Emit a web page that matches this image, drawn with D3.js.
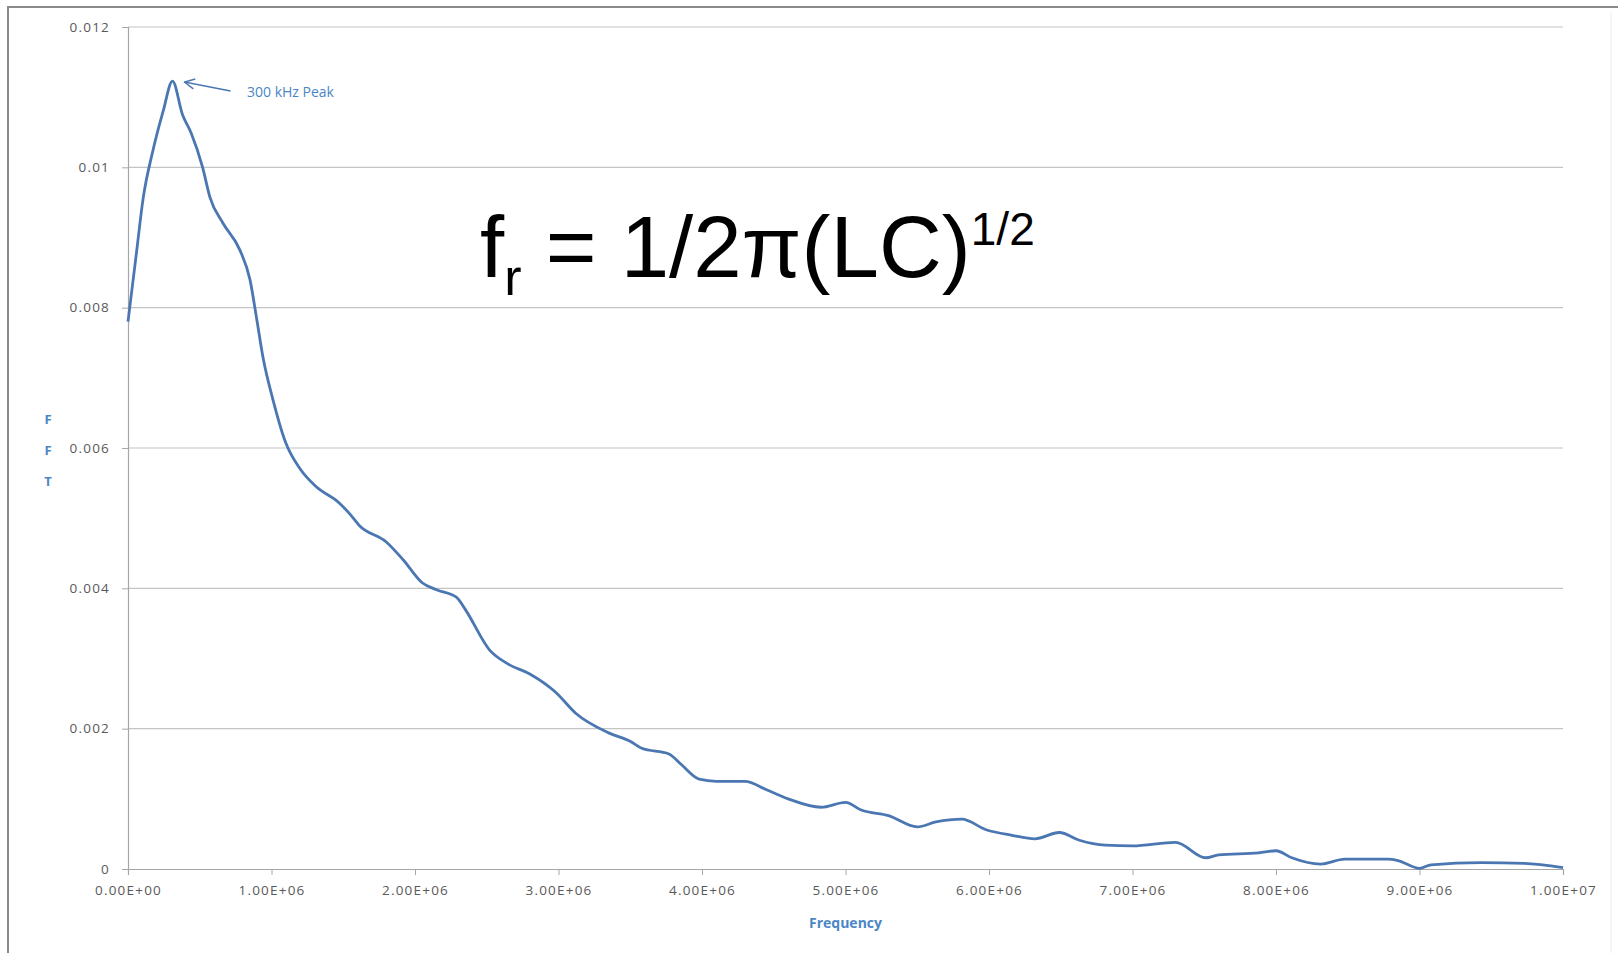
<!DOCTYPE html>
<html>
<head>
<meta charset="utf-8">
<script src="https://cdn.jsdelivr.net/npm/d3@7"></script>
<style>
  body { margin: 0; background: #fff; }
  svg { display: block; }
  .tick text { font-family: "Open Sans", sans-serif; font-size: 13.5px; fill: #595959; letter-spacing: 1.2px; }
</style>
</head>
<body>
<div id="graph"></div>
<script>
// valeurs (fréquence en Hz, amplitude FFT)
var frequences = [0, 0.06e6, 0.105e6, 0.175e6, 0.245e6, 0.31e6, 0.38e6, 0.44e6, 0.52e6, 0.57e6,
    0.66e6, 0.78e6, 0.85e6, 0.90e6, 0.94e6, 1.01e6, 1.10e6, 1.20e6, 1.31e6, 1.47e6,
    1.55e6, 1.61e6, 1.80e6, 1.92e6, 2.05e6, 2.15e6, 2.29e6, 2.35e6, 2.52e6, 2.65e6,
    2.80e6, 2.98e6, 3.12e6, 3.35e6, 3.50e6, 3.58e6, 3.77e6, 3.85e6, 3.98e6, 4.10e6,
    4.30e6, 4.45e6, 4.60e6, 4.83e6, 5.00e6, 5.11e6, 5.30e6, 5.50e6, 5.63e6, 5.81e6,
    5.98e6, 6.16e6, 6.32e6, 6.49e6, 6.63e6, 6.81e6, 7.00e6, 7.30e6, 7.51e6, 7.60e6,
    7.88e6, 8.00e6, 8.11e6, 8.31e6, 8.48e6, 8.78e6, 8.85e6, 9.00e6, 9.08e6, 9.43e6,
    9.73e6, 10.0e6];
var valeursFFT = [0.00780, 0.00880, 0.00955, 0.01025, 0.01080, 0.01123, 0.01075, 0.01049, 0.01000, 0.00958,
    0.00921, 0.00882, 0.00840, 0.00780, 0.00730, 0.00669, 0.00607, 0.00570, 0.00545, 0.00522,
    0.00505, 0.00490, 0.00466, 0.00440, 0.00408, 0.00398, 0.00387, 0.00370, 0.00312, 0.00292,
    0.00278, 0.00252, 0.00222, 0.00194, 0.00182, 0.00172, 0.00164, 0.00150, 0.00128, 0.00125,
    0.00125, 0.00113, 0.00100, 0.00088, 0.00095, 0.00084, 0.00076, 0.00060, 0.00067, 0.00071,
    0.00056, 0.00048, 0.00043, 0.00052, 0.00041, 0.00034, 0.00033, 0.00038, 0.00016, 0.00020,
    0.00023, 0.00026, 0.00016, 0.00007, 0.00014, 0.00014, 0.00012, 0.00001, 0.00006, 0.00009,
    0.00008, 0.00002];

var ticksX = [0, 1e6, 2e6, 3e6, 4e6, 5e6, 6e6, 7e6, 8e6, 9e6, 1e7];
var labelsX = ["0.00E+00", "1.00E+06", "2.00E+06", "3.00E+06", "4.00E+06", "5.00E+06",
    "6.00E+06", "7.00E+06", "8.00E+06", "9.00E+06", "1.00E+07"];
var ticksY = [0, 0.002, 0.004, 0.006, 0.008, 0.01, 0.012];
var labelsY = ["0", "0.002", "0.004", "0.006", "0.008", "0.01", "0.012"];

var pic = { freq: 0.31e6, val: 0.01123, texte: "300 kHz Peak" };

dessinerGraphique();

function dessinerGraphique() {
    const width = 1619;
    const height = 953;
    const bleu = "#4a77b2";
    const bleuTexte = "#4a86c5";

    const svg = d3.select("#graph").append("svg")
        .attr("width", width)
        .attr("height", height);

    svg.append("rect").attr("width", width).attr("height", height).attr("fill", "#fff");

    // cadre du graphique
    svg.append("path")
        .attr("d", "M8,960 L8,7 L1618,7")
        .attr("fill", "none")
        .attr("stroke", "#8a8a8a")
        .attr("stroke-width", 2);
    svg.append("line")
        .attr("x1", 1611).attr("x2", 1611).attr("y1", 12).attr("y2", 953)
        .attr("stroke", "#ececec").attr("stroke-width", 1);

    const x = d3.scaleLinear().domain([0, 1e7]).range([128, 1563]);
    const y = d3.scaleLinear().domain([0, 0.012]).range([869, 27]);

    // grille horizontale
    svg.append("g")
        .selectAll("line")
        .data(ticksY.slice(1))
        .enter().append("line")
        .attr("x1", x(0)).attr("x2", x(1e7))
        .attr("y1", d => y(d)).attr("y2", d => y(d))
        .attr("stroke", "#c4c4c4")
        .attr("stroke-width", 1.2);

    // axe Y
    const axeY = svg.append("g")
        .attr("transform", `translate(${x(0)},0)`)
        .call(d3.axisLeft(y).tickValues(ticksY).tickSize(6).tickPadding(12)
            .tickFormat((d, i) => labelsY[i]));
    axeY.select(".domain").attr("stroke", "#a6a6a6").attr("stroke-width", 1.2);
    axeY.selectAll(".tick line").attr("stroke", "#a6a6a6");

    // axe X
    const axeX = svg.append("g")
        .attr("transform", `translate(0,${y(0)})`)
        .call(d3.axisBottom(x).tickValues(ticksX).tickSize(6).tickPadding(10)
            .tickFormat((d, i) => labelsX[i]));
    axeX.select(".domain").attr("stroke", "#a6a6a6").attr("stroke-width", 1.2);
    axeX.selectAll(".tick line").attr("stroke", "#a6a6a6");

    // courbe FFT
    const donnees = frequences.map((f, i) => ({ f: f, v: valeursFFT[i] }));
    const ligne = d3.line()
        .x(d => x(d.f))
        .y(d => y(d.v))
        .curve(d3.curveMonotoneX);
    svg.append("path")
        .datum(donnees)
        .attr("fill", "none")
        .attr("stroke", bleu)
        .attr("stroke-width", 2.8)
        .attr("stroke-linejoin", "round")
        .attr("d", ligne);

    // titre des axes
    svg.append("text")
        .attr("x", (x(0) + x(1e7)) / 2)
        .attr("y", 928)
        .attr("text-anchor", "middle")
        .style("font-family", "Open Sans, sans-serif")
        .style("font-size", "14px")
        .style("font-weight", "bold")
        .attr("fill", bleuTexte)
        .text("Frequency");

    svg.append("g").selectAll("text")
        .data(["F", "F", "T"])
        .enter().append("text")
        .attr("x", 48)
        .attr("y", (d, i) => 424 + i * 31)
        .attr("text-anchor", "middle")
        .style("font-family", "Open Sans, sans-serif")
        .style("font-size", "13px")
        .style("font-weight", "bold")
        .attr("fill", bleuTexte)
        .text(d => d);

    // annotation du pic
    svg.append("defs").append("marker")
        .attr("id", "fleche")
        .attr("viewBox", "0 0 12 12")
        .attr("refX", 1).attr("refY", 6)
        .attr("markerWidth", 12).attr("markerHeight", 12)
        .attr("markerUnits", "userSpaceOnUse")
        .attr("orient", "auto")
        .append("path")
        .attr("d", "M11,1 L1,6 L11,11")
        .attr("fill", "none")
        .attr("stroke", bleu)
        .attr("stroke-width", 1.4);

    svg.append("line")
        .attr("x1", x(pic.freq) + 12).attr("y1", y(pic.val) + 1)
        .attr("x2", x(pic.freq) + 58).attr("y2", y(pic.val) + 10)
        .attr("stroke", bleu)
        .attr("stroke-width", 1.4)
        .attr("marker-start", "url(#fleche)");

    svg.append("text")
        .attr("x", 247)
        .attr("y", 97)
        .style("font-family", "Open Sans, sans-serif")
        .style("font-size", "14px")
        .attr("fill", bleuTexte)
        .text(pic.texte);

    // formule de résonance
    const formule = svg.append("text")
        .attr("x", 480)
        .attr("y", 277)
        .style("font-family", "Liberation Sans, Arial, sans-serif")
        .style("font-size", "87px")
        .attr("fill", "#000");
    formule.append("tspan").text("f");
    formule.append("tspan").attr("dy", 18).style("font-size", "52px").text("r");
    formule.append("tspan").attr("dy", -18).text(" = 1/2π(LC)");
    formule.append("tspan").attr("dy", -32).style("font-size", "46px").text("1/2");
}
</script>
</body>
</html>
